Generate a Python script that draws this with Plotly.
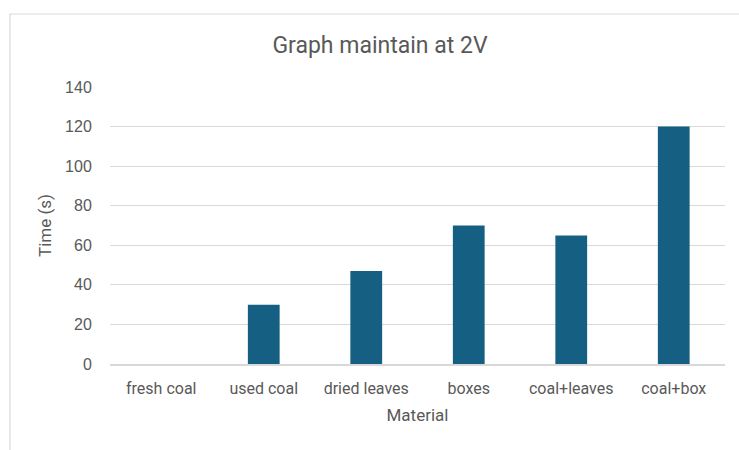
import plotly.graph_objects as go

# Data
materials = ["fresh coal", "used coal", "dried leaves", "boxes", "coal+leaves", "coal+box"]
times = [0, 30, 47, 70, 65, 120]
y_ticks = [0, 20, 40, 60, 80, 100, 120, 140]

W, H = 739, 450
L, R, T, B = 110, 14, 87, 86
pw, ph = W - L - R, H - T - B

text_color = "#595959"
grid_color = "#d9d9d9"
bar_color = "#156082"

fig = go.Figure()
fig.add_trace(go.Bar(
    x=materials,
    y=times,
    marker=dict(color=bar_color, line=dict(width=0)),
    width=0.31,
))

def px_to_paper_x(px):
    return (px - L) / pw

def px_to_paper_y(py):
    return (H - B - py) / ph

# Light chart frame
fig.add_shape(
    type="rect", xref="paper", yref="paper",
    x0=px_to_paper_x(10), x1=px_to_paper_x(760),
    y0=px_to_paper_y(470), y1=px_to_paper_y(14),
    line=dict(color="#d9d9d9", width=1.2), fillcolor="rgba(0,0,0,0)", layer="below",
)

fig.update_layout(
    width=W, height=H,
    margin=dict(l=L, r=R, t=T, b=B),
    paper_bgcolor="white", plot_bgcolor="white",
    showlegend=False,
    title=dict(
        text="Graph maintain at 2V",
        x=380 / W, xanchor="center",
        y=1 - 45 / H, yanchor="middle",
        font=dict(family="Roboto", size=23, color=text_color),
    ),
    xaxis=dict(
        showgrid=False,
        showline=True, linecolor=grid_color, linewidth=1.5,
        ticks="outside", ticklen=9, tickcolor="rgba(0,0,0,0)",
        tickfont=dict(family="Roboto", size=16, color=text_color),
        title=dict(text="Material", standoff=12,
                   font=dict(family="Roboto", size=17, color=text_color)),
    ),
    yaxis=dict(
        range=[0, 140],
        tickvals=y_ticks,
        showgrid=True, gridcolor=grid_color, gridwidth=1,
        zeroline=False,
        showline=False,
        ticks="outside", ticklen=14, tickcolor="rgba(0,0,0,0)",
        tickfont=dict(family="Liberation Sans", size=16, color=text_color),
        title=dict(text="Time (s)", standoff=9,
                   font=dict(family="Roboto", size=17, color=text_color)),
    ),
    bargap=0.69,
)

fig.write_html("out.html")
